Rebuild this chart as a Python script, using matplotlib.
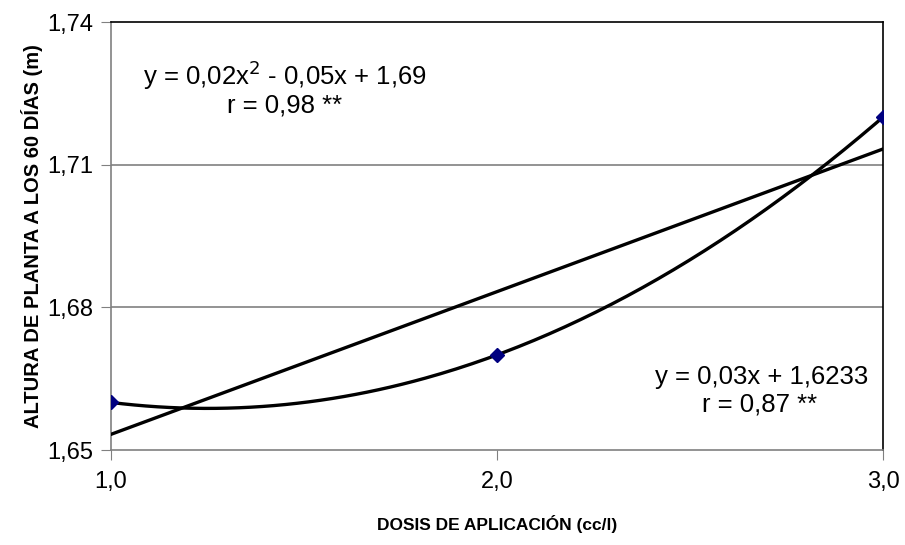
import numpy as np
import matplotlib
matplotlib.use("Agg")
import matplotlib.pyplot as plt

# data
dosis = [1.0, 2.0, 3.0]
altura = [1.66, 1.67, 1.72]
x_ticks = [1.0, 2.0, 3.0]
x_labels = ["1,0", "2,0", "3,0"]
y_ticks = [1.65, 1.68, 1.71, 1.74]
y_labels = ["1,65", "1,68", "1,71", "1,74"]
quad_coef = [0.02, -0.05, 1.69]
lin_coef = [0.03, 1.6233]

plt.rcParams['font.family'] = ['Liberation Sans', 'DejaVu Sans']

fig = plt.figure(figsize=(9.05, 5.45), dpi=100)
ax = fig.add_axes([0.1227, 0.1743, 0.8530, 0.7853])

xs = np.linspace(1.0, 3.0, 200)
ax.plot(xs, np.polyval(quad_coef, xs), color='black', lw=2.4, zorder=3)
ax.plot(xs, np.polyval(lin_coef, xs), color='black', lw=2.4, zorder=3)
ax.plot(dosis, altura, linestyle='none', marker='D', ms=7, color='#000080', zorder=4)

ax.set_xlim(1.0, 3.0)
ax.set_ylim(1.65, 1.74)
ax.set_xticks(x_ticks)
ax.set_xticklabels(x_labels)
ax.set_yticks(y_ticks)
ax.set_yticklabels(y_labels)
ax.tick_params(axis='both', labelsize=17, direction='out', length=7, color='#808080')
ax.tick_params(axis='x', pad=8)
ax.tick_params(axis='y', pad=6)

for yv in y_ticks[1:3]:
    ax.axhline(yv, color='#808080', lw=1.2, zorder=1)

ax.spines['left'].set_color('#808080')
ax.spines['bottom'].set_color('#808080')
ax.spines['top'].set_color('black')
ax.spines['right'].set_color('black')
for s in ax.spines.values():
    s.set_linewidth(1.2)

ax.text(1.45, 1.7289, "y = 0,02x$^2$ - 0,05x + 1,69", fontsize=18.5, ha='center', va='center')
ax.text(1.45, 1.7225, "r = 0,98 **", fontsize=18.5, ha='center', va='center')
ax.text(2.961, 1.6654, "y = 0,03x + 1,6233", fontsize=18.5, ha='right', va='center')
ax.text(2.68, 1.6595, "r = 0,87 **", fontsize=18.5, ha='center', va='center')

ax.set_xlabel("DOSIS DE APLICACIÓN (cc/l)", fontsize=12.5, fontweight='bold', labelpad=16)
ax.set_ylabel("ALTURA DE PLANTA A LOS 60 DÍAS (m)", fontsize=14.5, fontweight='bold',
              labelpad=3)

fig.savefig("out.png", dpi=100)
